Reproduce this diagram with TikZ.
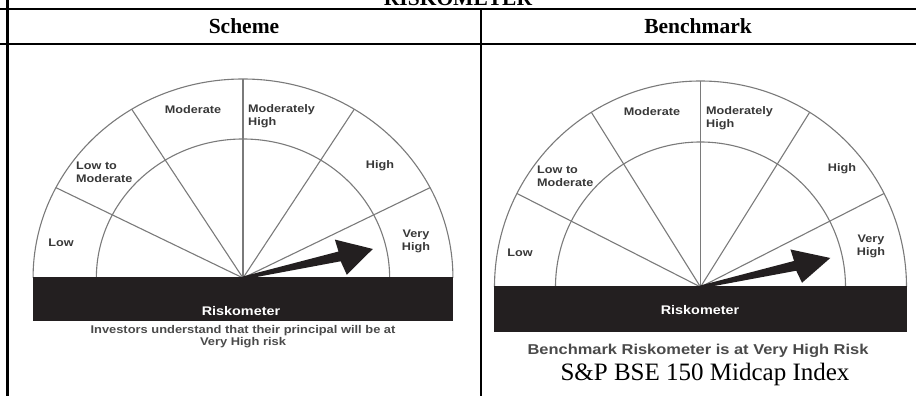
\documentclass[tikz,border=0pt]{standalone}
\usepackage{fontspec}
\setmainfont{Liberation Serif}
\newfontfamily\gsans{Liberation Sans}[FakeStretch=1.15]
\definecolor{barc}{HTML}{231F20}
\definecolor{linec}{HTML}{7A7A7A}
\definecolor{labc}{HTML}{383838}
\definecolor{subc}{HTML}{4A4A4A}
\tikzset{
  tline/.style={line width=2.2pt, black},
  gline/.style={line width=1.1pt, linec},
  glabel/.style={inner sep=0pt, text=labc, font=\gsans\bfseries\fontsize{11}{13}\selectfont},
  barlabel/.style={inner sep=0pt, text=white, font=\gsans\bfseries\fontsize{12.5}{14}\selectfont},
  subtext/.style={inner sep=0pt, text=subc, align=center},
  headtext/.style={inner sep=0pt, font=\bfseries\fontsize{21.5}{24}\selectfont},
  needle/.style={fill=barc, draw=none}
}
\begin{document}
\begin{tikzpicture}[x=1pt,y=1pt]
\useasboundingbox (0,0) rectangle (916,396);
% table
\draw[tline] (7.5,396) -- (7.5,0);
\draw[tline] (481,387) -- (481,0);
\draw[tline] (0,387) -- (916,387);
\draw[tline] (0,352) -- (916,352);
\node[headtext, anchor=base] (title) at (458,390.5) {RISKOMETER};
\node[headtext] (scheme) at (244,369.5) {Scheme};
\node[headtext] (bench) at (698,369.5) {Benchmark};

% ===== left gauge =====
\begin{scope}[shift={(243,118)}, xscale=1.055]
  \draw[gline] (199,0) arc[start angle=0, end angle=180, radius=199];
  \draw[gline] (139,0) arc[start angle=0, end angle=180, radius=139];
  \foreach \a in {27,58,90,122,153} \draw[gline] (0,0) -- (\a:199);
\end{scope}
\fill[barc] (33,75) rectangle (453,119);
\begin{scope}[shift={(243,118)}, rotate=12.6]
  \fill[needle] (0,-1.5) -- (99,-5) -- (102,-19.5) -- (133,0) -- (98,17.5) -- (99,5) -- (0,1.5) -- cycle;
\end{scope}
\node[barlabel] (rkL) at (241,85) {Riskometer};
\node[glabel] (lowL) at (61,153) {Low};
\node[glabel, anchor=west, align=left] (ltmL) at (76,223.5) {Low to\\Moderate};
\node[glabel] (modL) at (193,286) {Moderate};
\node[glabel, anchor=west, align=left] (mhL) at (248,279.5) {Moderately\\High};
\node[glabel] (highL) at (380,230) {High};
\node[glabel, align=center] (vhL) at (416,154.5) {Very\\High};
\node[subtext, font=\gsans\bfseries\fontsize{11.2}{10}\selectfont] (noteL) at (243,59.5) {Investors understand that their principal will be at\\Very High risk};

% ===== right gauge =====
\begin{scope}[shift={(700.5,109)}]
  \draw[gline] (206,0) arc[start angle=0, end angle=180, radius=206];
  \draw[gline] (145,0) arc[start angle=0, end angle=180, radius=145];
  \foreach \a in {27,58,90,122,153} \draw[gline] (0,0) -- (\a:206);
\end{scope}
\fill[barc] (494,64) rectangle (907,110);
\begin{scope}[shift={(700.5,109)}, rotate=12.6]
  \fill[needle] (0,-1.5) -- (97,-5) -- (100,-18) -- (133,0) -- (96,17) -- (97,5) -- (0,1.5) -- cycle;
\end{scope}
\node[barlabel] (rkR) at (700,86) {Riskometer};
\node[glabel] (lowR) at (520,143) {Low};
\node[glabel, anchor=west, align=left] (ltmR) at (537,219.5) {Low to\\Moderate};
\node[glabel] (modR) at (652,284) {Moderate};
\node[glabel, anchor=west, align=left] (mhR) at (706,277.5) {Moderately\\High};
\node[glabel] (highR) at (842,227) {High};
\node[glabel, align=center] (vhR) at (871,149.5) {Very\\High};
\node[subtext, font=\gsans\bfseries\fontsize{14.3}{16}\selectfont] (noteR) at (698,45) {Benchmark Riskometer is at Very High Risk};
\node[inner sep=0pt, font=\fontsize{25}{27}\selectfont] (idx) at (705,22) {S\&P BSE 150 Midcap Index};
\end{tikzpicture}
\end{document}
